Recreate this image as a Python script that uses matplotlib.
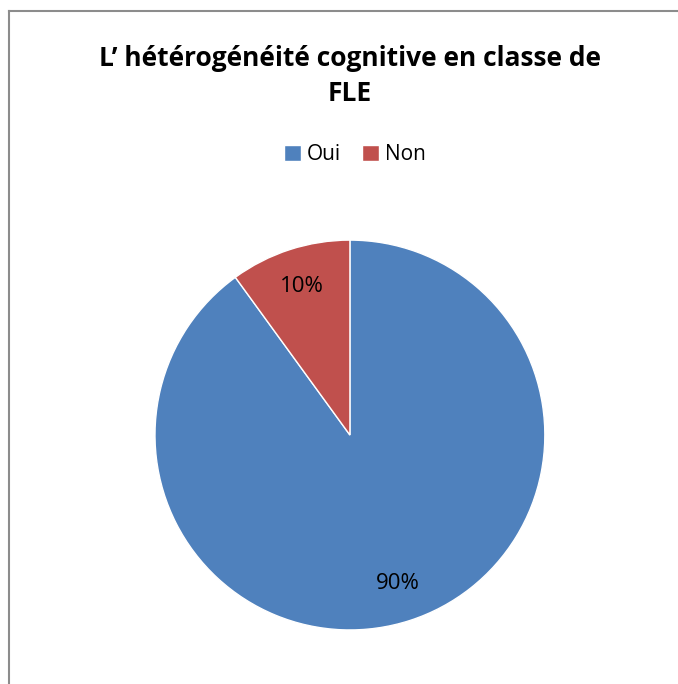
import matplotlib.pyplot as plt
from matplotlib.lines import Line2D

labels = ['Oui', 'Non']
values = [90, 10]
colors = ['#4F81BD', '#C0504D']
title = 'L’ hétérogénéité cognitive en classe de\nFLE'

plt.rcParams['font.family'] = ['Open Sans', 'DejaVu Sans']

fig = plt.figure(figsize=(6.78, 6.84), dpi=100)

# frame of the chart area (only top and left edges visible)
fig.add_artist(Line2D([9 / 678, 9 / 678], [0, 1 - 11 / 684], transform=fig.transFigure,
                      color='#8c8c8c', lw=1.5))
fig.add_artist(Line2D([9 / 678, 1], [1 - 11 / 684, 1 - 11 / 684], transform=fig.transFigure,
                      color='#8c8c8c', lw=1.5))

ax = fig.add_axes([0.2286, 0.079, 0.575, 0.570])
wedges, texts, autotexts = ax.pie(values, colors=colors, startangle=90, counterclock=False,
                                  autopct='%1.0f%%', pctdistance=0.8,
                                  wedgeprops=dict(edgecolor='white', linewidth=1),
                                  textprops=dict(fontsize=16, color='black'))
ax.set_xlim(-1, 1)
ax.set_ylim(-1, 1)
ax.set_aspect('equal')

fig.text(350 / 678, 1 - 76 / 684, title, ha='center', va='center', fontsize=19,
         fontweight='bold', linespacing=1.4)

fig.legend(wedges, labels, loc='center', bbox_to_anchor=(355 / 678, 1 - 155 / 684),
           ncol=2, frameon=False, fontsize=15, handlelength=0.8, handleheight=0.8,
           handletextpad=0.3, columnspacing=1.0)

fig.savefig('out.png', dpi=100)
